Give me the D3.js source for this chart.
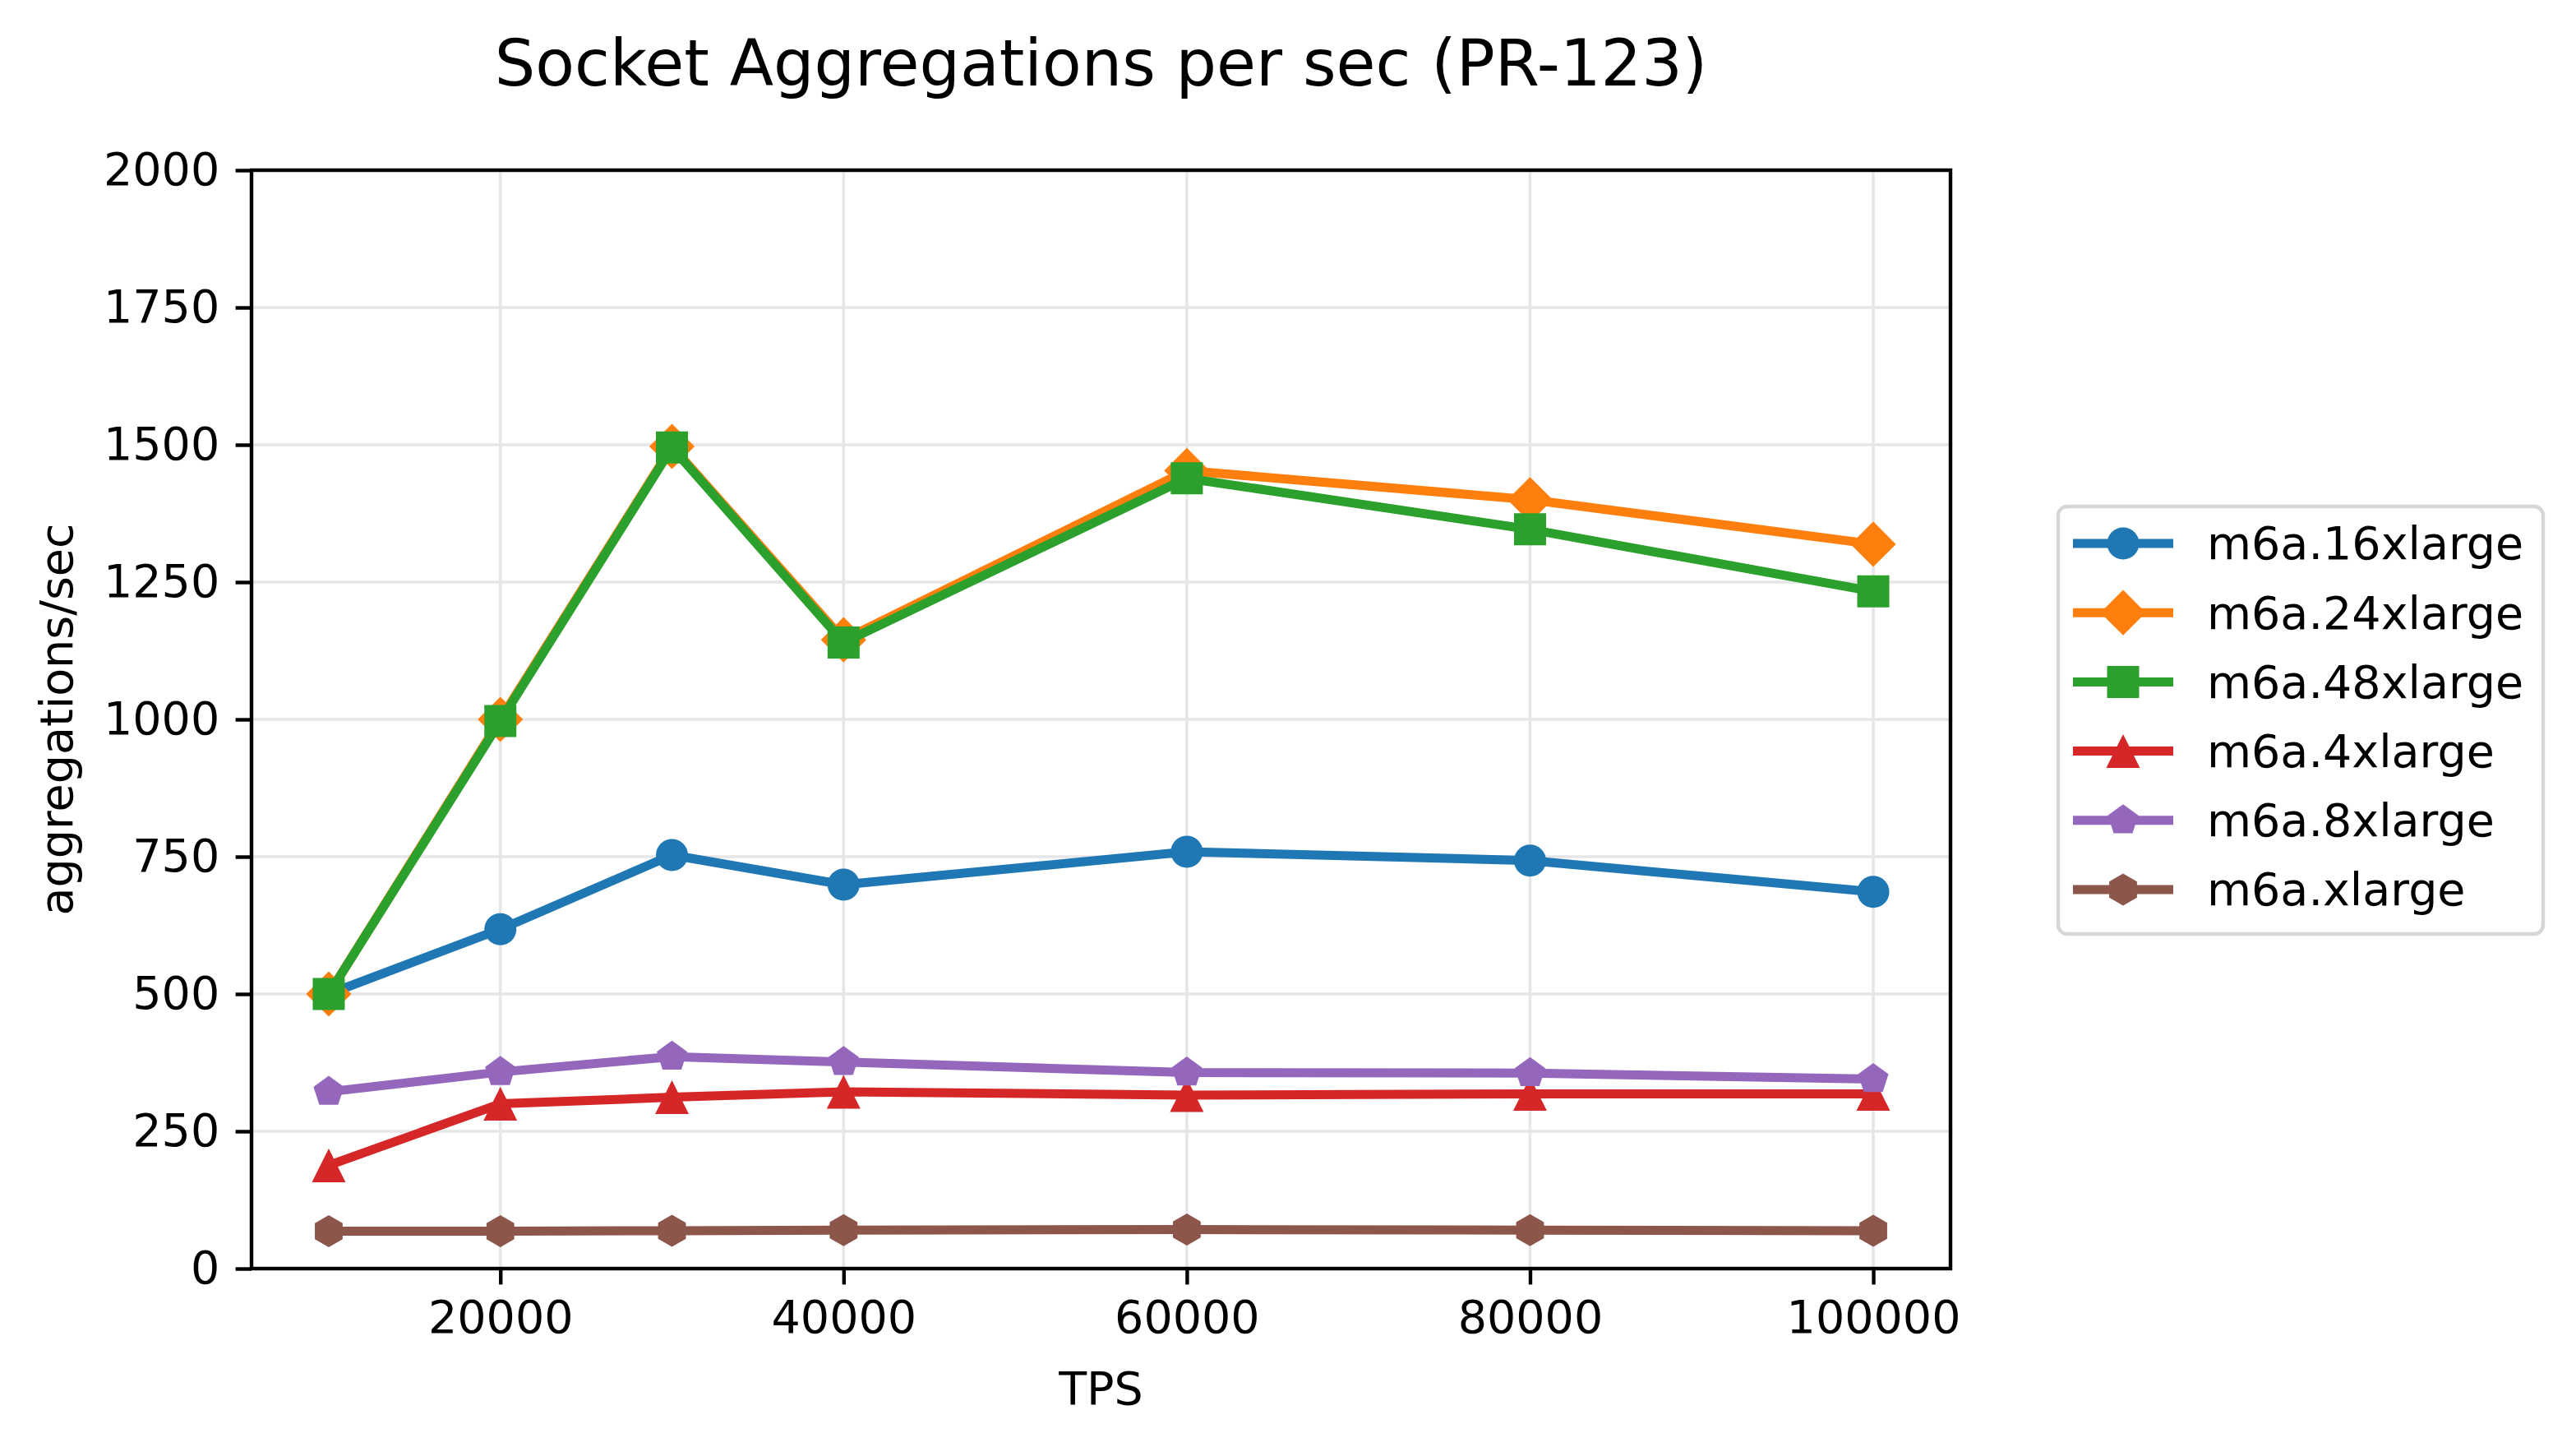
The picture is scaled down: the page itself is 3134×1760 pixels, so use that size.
<!DOCTYPE html>
<html>
<head>
<meta charset="utf-8">
<script src="https://cdn.jsdelivr.net/npm/d3@7"></script>
<style>
  body { margin: 0; background: #fff; }
  text { font-family: "DejaVu Sans", sans-serif; }
</style>
</head>
<body>
<section id="grafico"></section>
<script>
// x values (TPS)
const tps = [10000, 20000, 30000, 40000, 60000, 80000, 100000];

// series
const seriesNames = ["m6a.16xlarge", "m6a.24xlarge", "m6a.48xlarge", "m6a.4xlarge", "m6a.8xlarge", "m6a.xlarge"];
const m6a16 = [500, 618, 753, 699, 759, 743, 686];
const m6a24 = [500, 1000, 1497, 1145, 1453, 1400, 1319];
const m6a48 = [500, 997, 1495, 1140, 1439, 1346, 1233];
const m6a4  = [188, 300, 312, 322, 316, 318, 318];
const m6a8  = [322, 358, 386, 376, 357, 356, 345];
const m6ax  = [68, 68, 69, 70, 71, 70, 69];
const seriesValues = [m6a16, m6a24, m6a48, m6a4, m6a8, m6ax];

const xTicks = [20000, 40000, 60000, 80000, 100000];
const yTicks = [0, 250, 500, 750, 1000, 1250, 1500, 1750, 2000];

const colors = ["#1f77b4", "#ff7f0e", "#2ca02c", "#d62728", "#9467bd", "#8c564b"];
const shapes = ["circle", "diamond", "square", "triangle", "pentagon", "hexagon"];

const width = 3134;
const height = 1760;
const plotL = 306, plotR = 2373, plotT = 207, plotB = 1543;
const fontSize = 55.5;
const lineW = 11;
const ms = 19.5; // half marker size

const svg = d3.select("section#grafico")
    .append("svg")
    .attr("width", width)
    .attr("height", height)
    .style("background", "white");

const xScale = d3.scaleLinear()
    .domain([5500, 104500])
    .range([plotL, plotR]);

const yScale = d3.scaleLinear()
    .domain([0, 2000])
    .range([plotB, plotT]);

// marker path centred on 0,0
function markerPath(shape, r) {
    if (shape === "circle") {
        return `M${r},0A${r},${r} 0 1,1 ${-r},0A${r},${r} 0 1,1 ${r},0Z`;
    }
    if (shape === "square") {
        return `M${-r},${-r}H${r}V${r}H${-r}Z`;
    }
    if (shape === "diamond") {
        const d = r * Math.SQRT2;
        return `M0,${-d}L${d},0L0,${d}L${-d},0Z`;
    }
    if (shape === "triangle") {
        const t = r * 1.05;
        return `M0,${-t}L${t},${t}L${-t},${t}Z`;
    }
    let n = shape === "pentagon" ? 5 : 6;
    const pts = d3.range(n).map(i => {
        const a = -Math.PI / 2 + i * 2 * Math.PI / n;
        return [r * Math.cos(a), r * Math.sin(a)];
    });
    return "M" + pts.map(p => p.join(",")).join("L") + "Z";
}

// grid
svg.append("g")
    .selectAll("line")
    .data(xTicks)
    .enter()
    .append("line")
    .attr("x1", d => xScale(d))
    .attr("x2", d => xScale(d))
    .attr("y1", plotT)
    .attr("y2", plotB)
    .attr("stroke", "#e6e6e6")
    .attr("stroke-width", 3.5);

svg.append("g")
    .selectAll("line")
    .data(yTicks)
    .enter()
    .append("line")
    .attr("x1", plotL)
    .attr("x2", plotR)
    .attr("y1", d => yScale(d))
    .attr("y2", d => yScale(d))
    .attr("stroke", "#e6e6e6")
    .attr("stroke-width", 3.5);

// lines + markers
const line = d3.line()
    .x((d, i) => xScale(tps[i]))
    .y(d => yScale(d));

seriesValues.forEach((vals, s) => {
    const g = svg.append("g");
    g.append("path")
        .attr("d", line(vals))
        .attr("fill", "none")
        .attr("stroke", colors[s])
        .attr("stroke-width", lineW)
        .attr("stroke-linejoin", "round");
    g.selectAll("path.mk")
        .data(vals)
        .enter()
        .append("path")
        .attr("class", "mk")
        .attr("transform", (d, i) => `translate(${xScale(tps[i])},${yScale(d)})`)
        .attr("d", markerPath(shapes[s], ms))
        .attr("fill", colors[s]);
});

// axes
const xAxis = d3.axisBottom(xScale).tickValues(xTicks).tickFormat(d3.format("d"))
    .tickSize(19.4).tickPadding(19.4);
const yAxis = d3.axisLeft(yScale).tickValues(yTicks).tickFormat(d3.format("d"))
    .tickSize(19.4).tickPadding(19.4);

const gx = svg.append("g")
    .attr("transform", `translate(0,${plotB})`)
    .call(xAxis);
const gy = svg.append("g")
    .attr("transform", `translate(${plotL},0)`)
    .call(yAxis);

[gx, gy].forEach(g => {
    g.attr("font-family", "DejaVu Sans").attr("font-size", fontSize);
    g.select(".domain").remove();
    g.selectAll(".tick line").attr("stroke", "black").attr("stroke-width", 4.4);
    g.selectAll(".tick text").attr("fill", "black");
});

// frame
svg.append("rect")
    .attr("x", plotL)
    .attr("y", plotT)
    .attr("width", plotR - plotL)
    .attr("height", plotB - plotT)
    .attr("fill", "none")
    .attr("stroke", "black")
    .attr("stroke-width", 4.4);

// title and labels
svg.append("text")
    .attr("x", (plotL + plotR) / 2)
    .attr("y", 104)
    .attr("text-anchor", "middle")
    .attr("font-size", 78)
    .text("Socket Aggregations per sec (PR-123)");

svg.append("text")
    .attr("x", (plotL + plotR) / 2)
    .attr("y", 1708)
    .attr("text-anchor", "middle")
    .attr("font-size", fontSize)
    .text("TPS");

svg.append("text")
    .attr("transform", `translate(88,${(plotT + plotB) / 2}) rotate(-90)`)
    .attr("text-anchor", "middle")
    .attr("font-size", fontSize)
    .text("aggregations/sec");

// legend
const legX = 2504, legY = 616, legW = 590, legH = 520;
const rowY0 = 661, rowStep = 84.2;

svg.append("rect")
    .attr("x", legX)
    .attr("y", legY)
    .attr("width", legW)
    .attr("height", legH)
    .attr("rx", 11)
    .attr("fill", "white")
    .attr("fill-opacity", 0.8)
    .attr("stroke", "#d6d6d6")
    .attr("stroke-width", 4.4);

const legend = svg.append("g")
    .selectAll("g")
    .data(seriesNames)
    .enter()
    .append("g")
    .attr("transform", (d, i) => `translate(0,${rowY0 + i * rowStep})`);

legend.append("line")
    .attr("x1", 2522)
    .attr("x2", 2644)
    .attr("stroke", (d, i) => colors[i])
    .attr("stroke-width", lineW);

legend.append("path")
    .attr("transform", "translate(2583,0)")
    .attr("d", (d, i) => markerPath(shapes[i], ms))
    .attr("fill", (d, i) => colors[i]);

legend.append("text")
    .attr("x", 2685)
    .attr("dy", "0.35em")
    .attr("font-size", fontSize)
    .text(d => d);
</script>
</body>
</html>
